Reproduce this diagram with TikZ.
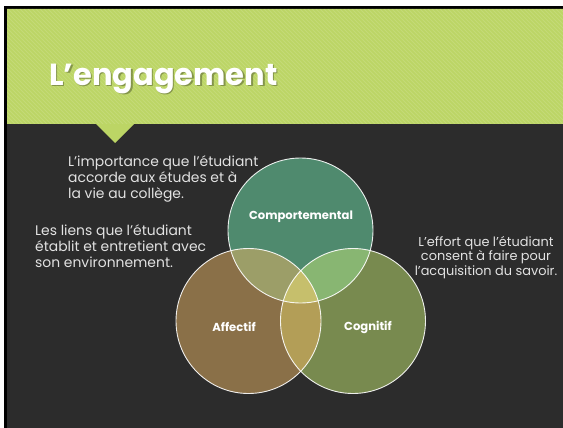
\documentclass[tikz,border=0pt]{standalone}
\usepackage{fontspec}
\setmainfont{Poppins}
\usetikzlibrary{positioning}
\definecolor{headgreen}{HTML}{BCD565}
\definecolor{slidebg}{HTML}{2C2C2C}
\definecolor{bodytext}{HTML}{E2E2E2}
\definecolor{compcol}{HTML}{4F8A6E}
\definecolor{affcol}{HTML}{8A7048}
\definecolor{cogcol}{HTML}{788A4F}
\definecolor{compaff}{HTML}{9C9E68}
\definecolor{compcog}{HTML}{88B672}
\definecolor{affcog}{HTML}{B39E57}
\definecolor{allthree}{HTML}{C6BF6C}

\begin{document}
\begin{tikzpicture}[x=1pt,y=-1pt,
    body/.style={text=bodytext, inner sep=0pt, font=\fontsize{13.9}{16}\selectfont},
    ring/.style={draw=white, line width=0.9pt, draw opacity=0.9},
    setlabel/.style={text=white, inner sep=0pt, font=\bfseries\fontsize{11.6}{13}\selectfont}]

    \clip (0,0) rectangle (563,428);
    % frame and slide
    \fill[white] (0,0) rectangle (563,428);
    \fill[black] (4,6) rectangle (563,428);
    \fill[slidebg] (7,9) rectangle (563,428);
    \fill[headgreen] (7,9) rectangle (563,124)
        (96,124) -- (115,143) -- (134,124) -- cycle;
    \begin{scope}
        \clip (7,9) rectangle (563,124);
        \foreach \i in {-120,-116,...,566}
            \draw[white, opacity=0.12, line width=1pt] (\i,9) -- ++(116,116);
    \end{scope}

    % title
    \node[anchor=base west, inner sep=0pt, text=black, opacity=0.3,
        font=\bfseries\fontsize{30.5}{34}\selectfont] at (50.5,86.5) {L’engagement};
    \node[anchor=base west, inner sep=0pt, text=white,
        font=\bfseries\fontsize{30.5}{34}\selectfont] (title) at (49,85) {L’engagement};

    % venn
    \coordinate (comp) at (300.5,230.5);
    \coordinate (aff) at (248.5,321);
    \coordinate (cog) at (353,321);

    \fill[compcol] (comp) circle (72.5pt);
    \fill[affcol] (aff) circle (72.5pt);
    \fill[cogcol] (cog) circle (72.5pt);
    \begin{scope}
        \clip (comp) circle (72.5pt);
        \fill[compaff] (aff) circle (72.5pt);
        \fill[compcog] (cog) circle (72.5pt);
    \end{scope}
    \begin{scope}
        \clip (aff) circle (72.5pt);
        \fill[affcog] (cog) circle (72.5pt);
        \clip (comp) circle (72.5pt);
        \fill[allthree] (cog) circle (72.5pt);
    \end{scope}
    \draw[ring] (comp) circle (72.5pt);
    \draw[ring] (aff) circle (72.5pt);
    \draw[ring] (cog) circle (72.5pt);

    \node[setlabel] (complabel) at (301,217) {Comportemental};
    \node[setlabel] (afflabel) at (234,327) {Affectif};
    \node[setlabel] (coglabel) at (368,327) {Cognitif};

    % descriptions
    \node[body, anchor=north west, align=left] (comptext) at (68,155)
        {L’importance que l’étudiant\\accorde aux études et à\\la vie au collège.};
    \node[body, anchor=north west, align=left] (afftext) at (35,224)
        {Les liens que l’étudiant\\établit et entretient avec\\son environnement.};
    \node[body, anchor=north, align=center, font=\fontsize{12.9}{14.5}\selectfont] (cogtext) at (486,236)
        {L’effort que l’étudiant\\consent à faire pour\\l’acquisition du savoir.};
\end{tikzpicture}
\end{document}
